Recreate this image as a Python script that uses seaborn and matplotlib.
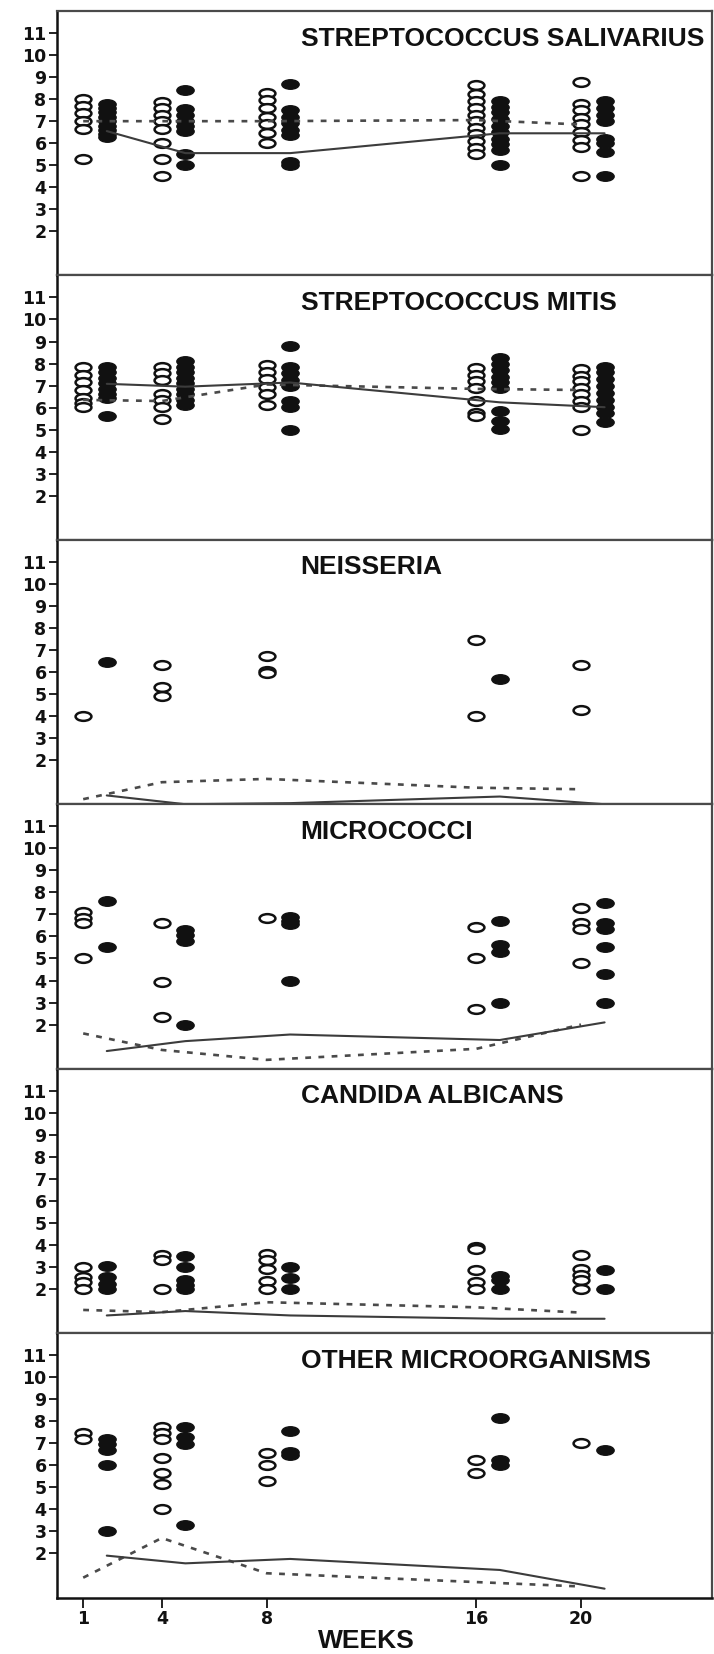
import numpy as np
import pandas as pd
import matplotlib
matplotlib.use("Agg")
import matplotlib.pyplot as plt
import seaborn as sns
from matplotlib.path import Path
from matplotlib.transforms import Affine2D

# ---------------------------------------------------------------- data
WEEKS = [1, 4, 8, 16, 20]
TITLES = [
    "STREPTOCOCCUS SALIVARIUS",
    "STREPTOCOCCUS MITIS",
    "NEISSERIA",
    "MICROCOCCI",
    "CANDIDA ALBICANS",
    "OTHER MICROORGANISMS",
]

# individual counts (log CFU) per week: open = group A, filled = group B
SALIVARIUS_OPEN = [[8.0, 7.7, 7.35, 7.0, 6.65, 5.3],
                   [7.85, 7.6, 7.3, 7.0, 6.65, 6.0, 5.3, 4.5],
                   [8.3, 7.95, 7.6, 7.2, 6.85, 6.45, 6.0],
                   [8.65, 8.25, 7.9, 7.6, 7.3, 7.0, 6.7, 6.4, 6.1, 5.8, 5.5],
                   [8.8, 7.8, 7.5, 7.15, 6.85, 6.5, 6.15, 5.85, 4.5]]
SALIVARIUS_FILLED = [[7.8, 7.6, 7.4, 7.2, 7.0, 6.8, 6.6, 6.4, 6.3],
                     [8.4, 7.55, 7.3, 7.0, 6.8, 6.55, 5.5, 5.0],
                     [8.7, 7.5, 7.2, 6.9, 6.6, 6.35, 5.15, 5.0],
                     [7.9, 7.65, 7.4, 7.1, 6.8, 6.5, 6.2, 5.95, 5.7, 5.0],
                     [7.9, 7.6, 7.3, 7.0, 6.2, 6.0, 5.6, 4.5]]
SALIVARIUS_OPEN_MEAN = [7.0, 7.0, 7.0, 7.05, 6.85]
SALIVARIUS_FILLED_MEAN = [6.55, 5.55, 5.55, 6.45, 6.45]

MITIS_OPEN = [[7.85, 7.5, 7.15, 6.8, 6.45, 6.2, 6.05],
              [7.85, 7.55, 7.25, 6.6, 6.35, 6.05, 5.5],
              [7.95, 7.6, 7.3, 6.95, 6.6, 6.1],
              [7.8, 7.5, 7.2, 6.9, 6.3, 5.75, 5.6],
              [7.75, 7.45, 7.2, 6.9, 6.6, 6.3, 6.05, 5.0]]
MITIS_FILLED = [[7.85, 7.6, 7.35, 7.1, 6.85, 6.6, 6.45, 5.6],
                [8.1, 7.85, 7.6, 7.35, 7.1, 6.85, 6.6, 6.35, 6.1],
                [8.8, 7.85, 7.55, 7.25, 7.0, 6.3, 6.05, 5.0],
                [8.25, 8.0, 7.7, 7.4, 7.15, 6.9, 5.85, 5.4, 5.05],
                [7.85, 7.6, 7.3, 7.0, 6.65, 6.35, 6.05, 5.75, 5.35]]
MITIS_OPEN_MEAN = [6.35, 6.3, 7.05, 6.85, 6.8]
MITIS_FILLED_MEAN = [7.08, 6.95, 7.14, 6.24, 6.02]

NEISSERIA_OPEN = [[4.0], [6.3, 5.3, 4.9], [6.75, 6.05, 5.97], [7.45, 4.0], [6.3, 4.3]]
NEISSERIA_FILLED = [[6.45], [], [], [5.68], []]
NEISSERIA_OPEN_MEAN = [0.23, 1.0, 1.15, 0.75, 0.68]
NEISSERIA_FILLED_MEAN = [0.4, 0.0, 0.05, 0.35, 0.0]

MICROCOCCI_OPEN = [[7.1, 6.85, 6.6, 5.0], [6.6, 3.95, 2.35], [6.85],
                   [6.45, 5.0, 2.7], [7.3, 6.6, 6.35, 4.8]]
MICROCOCCI_FILLED = [[7.6, 5.5], [6.3, 6.05, 5.8, 2.0], [6.9, 6.7, 6.55, 4.0],
                     [6.7, 5.6, 5.3, 3.0], [7.5, 6.6, 6.35, 5.5, 4.3, 3.0]]
MICROCOCCI_OPEN_MEAN = [1.6, 0.85, 0.4, 0.9, 2.0]
MICROCOCCI_FILLED_MEAN = [0.8, 1.25, 1.55, 1.3, 2.1]

CANDIDA_OPEN = [[3.0, 2.55, 2.3, 2.0], [3.55, 3.3, 2.0], [3.6, 3.3, 2.9, 2.35, 2.0],
                [3.9, 3.8, 2.85, 2.3, 2.0], [3.55, 2.9, 2.65, 2.4, 2.0]]
CANDIDA_FILLED = [[3.05, 2.55, 2.25, 2.0], [3.5, 3.0, 2.4, 2.2, 2.0], [3.0, 2.5, 2.0],
                  [2.6, 2.4, 2.0], [2.85, 2.0]]
CANDIDA_OPEN_MEAN = [1.05, 0.95, 1.4, 1.17, 0.93]
CANDIDA_FILLED_MEAN = [0.8, 1.0, 0.8, 0.65, 0.65]

OTHER_OPEN = [[7.45, 7.2], [7.75, 7.45, 7.2, 6.35, 5.65, 5.15, 4.0], [6.55, 6.0, 5.3],
              [6.25, 5.65], [7.0]]
OTHER_FILLED = [[7.2, 6.95, 6.7, 6.0, 3.0], [7.75, 7.3, 6.95, 3.3], [7.55, 6.6, 6.45],
                [8.15, 6.25, 6.0], [6.7]]
OTHER_OPEN_MEAN = [0.9, 2.7, 1.1, 0.7, 0.5]
OTHER_FILLED_MEAN = [1.9, 1.55, 1.75, 1.25, 0.4]

PANELS = [
    (SALIVARIUS_OPEN, SALIVARIUS_FILLED, SALIVARIUS_OPEN_MEAN, SALIVARIUS_FILLED_MEAN),
    (MITIS_OPEN, MITIS_FILLED, MITIS_OPEN_MEAN, MITIS_FILLED_MEAN),
    (NEISSERIA_OPEN, NEISSERIA_FILLED, NEISSERIA_OPEN_MEAN, NEISSERIA_FILLED_MEAN),
    (MICROCOCCI_OPEN, MICROCOCCI_FILLED, MICROCOCCI_OPEN_MEAN, MICROCOCCI_FILLED_MEAN),
    (CANDIDA_OPEN, CANDIDA_FILLED, CANDIDA_OPEN_MEAN, CANDIDA_FILLED_MEAN),
    (OTHER_OPEN, OTHER_FILLED, OTHER_OPEN_MEAN, OTHER_FILLED_MEAN),
]

# ---------------------------------------------------------------- style
sns.set_style("ticks")
plt.rcParams["font.family"] = ["DejaVu Sans"]
TITLE_FONT = ["Liberation Sans", "DejaVu Sans"]

SHIFT = 0.9          # filled group is drawn just right of each week
INK = "#111111"
LINE = "#3c3c3c"
FRAME = "#4a4a4a"

# horizontally stretched ellipse used as the marker
ELLIPSE = Affine2D().scale(1.0, 0.55).transform_path(Path.unit_circle())


def long_table(values, group):
    rows = [(w, v, group) for w, vals in zip(WEEKS, values) for v in vals]
    df = pd.DataFrame(rows, columns=["week", "log_count", "group"])
    df["xpos"] = df["week"] + (SHIFT if group == "filled" else 0.0)
    return df


fig = plt.figure(figsize=(7.14, 16.54), dpi=100)
gs = fig.add_gridspec(6, 1, left=57 / 714, right=712 / 714,
                      top=1 - 11 / 1654, bottom=1 - 1597.5 / 1654, hspace=0)

for i, (title, (op, fi, op_mean, fi_mean)) in enumerate(zip(TITLES, PANELS)):
    ax = fig.add_subplot(gs[i])
    d_open = long_table(op, "open")
    d_fill = long_table(fi, "filled")

    sns.scatterplot(data=d_open, x="xpos", y="log_count", ax=ax, marker=ELLIPSE,
                    s=130, color="white", edgecolor=INK, linewidth=1.8,
                    legend=False, zorder=2)
    if len(d_fill):
        sns.scatterplot(data=d_fill, x="xpos", y="log_count", ax=ax, marker=ELLIPSE,
                        s=155, color=INK, edgecolor=INK, linewidth=1.0,
                        legend=False, zorder=2)

    sns.lineplot(x=np.array(WEEKS, float), y=op_mean, ax=ax, color="#4a4a4a",
                 linewidth=1.9, linestyle=(0, (2.2, 2.8)), errorbar=None, zorder=3)
    sns.lineplot(x=np.array(WEEKS, float) + SHIFT, y=fi_mean, ax=ax, color=LINE,
                 linewidth=1.5, errorbar=None, zorder=3)

    ax.set_xlim(0, 25)
    ax.set_ylim(0, 12)
    ax.set_yticks(range(2, 12))
    ax.set_yticklabels([str(v) for v in range(2, 12)], fontweight="bold",
                       fontsize=12.5, color=INK)
    ax.tick_params(axis="y", length=6, width=1.3, pad=1.5, color=INK)
    ax.set_xlabel("")
    ax.set_ylabel("")

    for side in ("top", "right", "bottom"):
        ax.spines[side].set_color(FRAME)
        ax.spines[side].set_linewidth(1.6)
    ax.spines["left"].set_color(INK)
    ax.spines["left"].set_linewidth(1.8)

    ax.text(9.3, 10.75, title, ha="left", va="center", fontsize=19,
            fontweight="bold", family=TITLE_FONT, color=INK)

    if i < len(TITLES) - 1:
        ax.set_xticks([])
    else:
        ax.spines["bottom"].set_color(INK)
        ax.spines["bottom"].set_linewidth(1.8)
        ax.set_xticks(WEEKS)
        ax.set_xticklabels([str(w) for w in WEEKS], fontweight="bold",
                           fontsize=12.5, color=INK)
        ax.tick_params(axis="x", length=7, width=1.3, pad=2, color=INK)

fig.text(366 / 714, 1 - 1641 / 1654, "WEEKS", ha="center", va="center",
         fontsize=19, fontweight="bold", family=TITLE_FONT, color=INK)

fig.savefig("out.png", dpi=100, facecolor="white")
